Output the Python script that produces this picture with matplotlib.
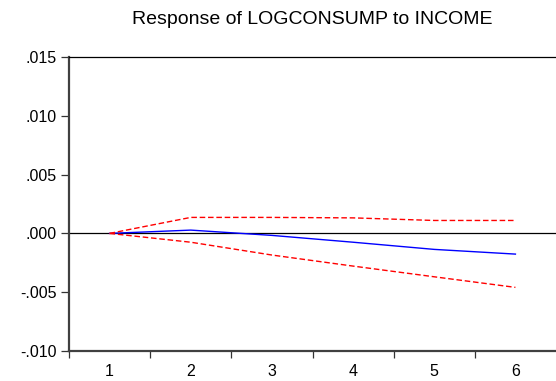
import matplotlib
matplotlib.use("Agg")
import matplotlib.pyplot as plt
from matplotlib.ticker import FixedLocator, NullFormatter, FuncFormatter

# Impulse response and +/- 2 s.e. bands, periods 1..6
periods = [1, 2, 3, 4, 5, 6]
response = [0.0, 0.00028, -0.00017, -0.00075, -0.00136, -0.00176]
upper = [0.0, 0.00136, 0.00136, 0.00132, 0.00110, 0.00110]
lower = [0.0, -0.00075, -0.00184, -0.00278, -0.00369, -0.00459]

yticks = [-0.010, -0.005, 0.0, 0.005, 0.010, 0.015]


def fmt(v, pos=None):
    s = f"{v:.3f}"
    return s.replace("0.", ".", 1)


plt.rcParams["font.family"] = ["Liberation Sans", "DejaVu Sans"]

fig = plt.figure(figsize=(5.56, 3.81), dpi=100)
ax = fig.add_axes([69 / 556, 1 - 351 / 381, 487 / 556, 294 / 381])

ax.plot(periods, response, color="#0000ff", lw=1.0)
ax.plot(periods, upper, color="#ff0000", lw=1.0, ls=(0, (4, 2)))
ax.plot(periods, lower, color="#ff0000", lw=1.0, ls=(0, (4, 2)))
ax.axhline(0, color="black", lw=0.9, zorder=1)

ax.set_xlim(0.5, 6.5)
ax.set_ylim(-0.010, 0.015)

ax.set_yticks(yticks)
ax.yaxis.set_major_formatter(FuncFormatter(fmt))

# tick marks between periods, labels centred on periods
ax.xaxis.set_major_locator(FixedLocator([0.5, 1.5, 2.5, 3.5, 4.5, 5.5]))
ax.xaxis.set_major_formatter(NullFormatter())
ax.xaxis.set_minor_locator(FixedLocator(periods))
ax.set_xticklabels([str(p) for p in periods], minor=True)
ax.tick_params(axis="x", which="minor", length=0, pad=9, labelsize=11.5)
ax.tick_params(axis="x", which="major", length=5, width=0.9, color="#333333")
ax.tick_params(axis="y", length=6, width=0.9, color="#333333", labelsize=11.5, pad=3)

for side in ["left", "bottom"]:
    ax.spines[side].set_color("#404040")
    ax.spines[side].set_linewidth(1.6)
ax.spines["top"].set_linewidth(0.9)
ax.spines["right"].set_visible(False)

fig.text((69 + 556) / 2 / 556, 1 - 19 / 381, "Response of LOGCONSUMP to INCOME",
         ha="center", va="center", fontsize=14)

fig.savefig("out.png", dpi=100)
